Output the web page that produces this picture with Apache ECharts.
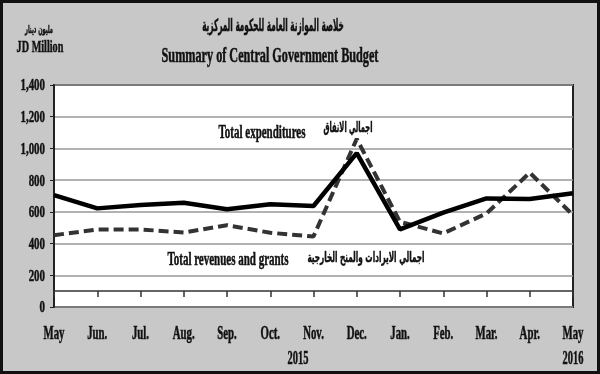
<!DOCTYPE html>
<html>
<head>
<meta charset="utf-8">
<script src="https://cdn.jsdelivr.net/npm/echarts@6/dist/echarts.min.js"></script>
<style>html,body{margin:0;padding:0;background:#c8c8c8}#c{width:600px;height:374px}</style>
</head>
<body>
<div id="c"></div>
<script>
var months = ['May','Jun.','Jul.','Aug.','Sep.','Oct.','Nov.','Dec.','Jan.','Feb.','Mar.','Apr.','May'];
var expenditures = [706, 622, 643, 658, 616, 648, 637, 970, 489, 595, 685, 681, 717];
var revenues = [453, 489, 489, 470, 516, 468, 445, 1060, 537, 464, 590, 847, 580];
var yTicks = { min: 0, max: 1400, interval: 200 };
var years = [{ label: '2015', x: 298 }, { label: '2016', x: 573 }];

var serif = 'Liberation Serif';
var arab = 'DejaVu Sans';
function txt(x, y, s, size, font, sx, align) {
  return { type: 'text', x: x, y: y, scaleX: sx, z: 50,
    style: { text: s, font: 'bold ' + size + 'px "' + font + '"', fill: '#111', stroke: '#111', lineWidth: 0.5,
      align: align || 'center', verticalAlign: 'middle' } };
}

var chart = echarts.init(document.getElementById('c'));
chart.setOption({
  backgroundColor: '#c8c8c8',
  animation: false,
  grid: { left: 54, right: 27, top: 85, bottom: 67, show: true, backgroundColor: '#fff', borderColor: '#222', borderWidth: 2 },
  xAxis: [
    { type: 'category', data: months, boundaryGap: false,
      axisLine: { show: false }, axisTick: { show: false }, splitLine: { show: false },
      axisLabel: { show: false } },
    { type: 'category', data: months, boundaryGap: false, position: 'bottom', offset: -16,
      axisLine: { show: true, lineStyle: { color: '#333', width: 1.5 } },
      axisTick: { show: true, length: 6, inside: false, lineStyle: { color: '#333', width: 1.5 } },
      axisLabel: { show: false }, splitLine: { show: false } }
  ],
  yAxis: {
    type: 'value', min: yTicks.min, max: yTicks.max, interval: yTicks.interval,
    axisLine: { show: true, lineStyle: { color: '#222', width: 2 } },
    axisTick: { show: true, length: 4, lineStyle: { color: '#222' } },
    splitLine: { show: true, lineStyle: { color: '#999', width: 1.5 } },
    axisLabel: { show: false }
  },
  series: [
    { name: 'Total expenditures', type: 'line', data: expenditures, symbol: 'none', z: 5,
      lineStyle: { color: '#000', width: 4.5 } },
    { name: 'Total revenues and grants', type: 'line', data: revenues, symbol: 'none', z: 4,
      lineStyle: { color: '#333', width: 4, type: [10, 5] } }
  ]
});

// condensed axis labels placed through the library's own scales
var g = [
  { type: 'rect', z: -100, shape: { x: 1.5, y: 1.5, width: 597, height: 371 }, style: { fill: '#c8c8c8', stroke: '#111', lineWidth: 3 } },
  txt(273, 27, 'خلاصة الموازنة العامة للحكومة المركزية', 17, arab, 0.43),
  txt(270, 57, 'Summary of Central Government Budget', 20, serif, 0.61),
  txt(39, 30, 'مليون دينار', 11, arab, 0.46),
  txt(40, 48, 'JD Million', 17, serif, 0.6),
  txt(262, 133, 'Total expenditures', 18, serif, 0.61),
  txt(348, 128, 'اجمالي الانفاق', 14, arab, 0.48),
  txt(228, 260, 'Total revenues and grants', 18, serif, 0.61),
  txt(366, 258, 'اجمالي الايرادات والمنح الخارجية', 14, arab, 0.52)
];
var y0 = chart.convertToPixel({ yAxisIndex: 0 }, yTicks.min);
var x0 = chart.convertToPixel({ xAxisIndex: 0 }, 0);
months.forEach(function (m, i) {
  g.push(txt(chart.convertToPixel({ xAxisIndex: 0 }, i), y0 + 27, m, 18, serif, 0.6));
});
for (var v = yTicks.min; v <= yTicks.max; v += yTicks.interval) {
  g.push(txt(x0 - 9, chart.convertToPixel({ yAxisIndex: 0 }, v) + 1, v.toLocaleString('en-US'), 17, serif, 0.64, 'right'));
}
years.forEach(function (yr) { g.push(txt(yr.x, y0 + 52, yr.label, 18, serif, 0.58)); });
chart.setOption({ graphic: g });
</script>
</body>
</html>
